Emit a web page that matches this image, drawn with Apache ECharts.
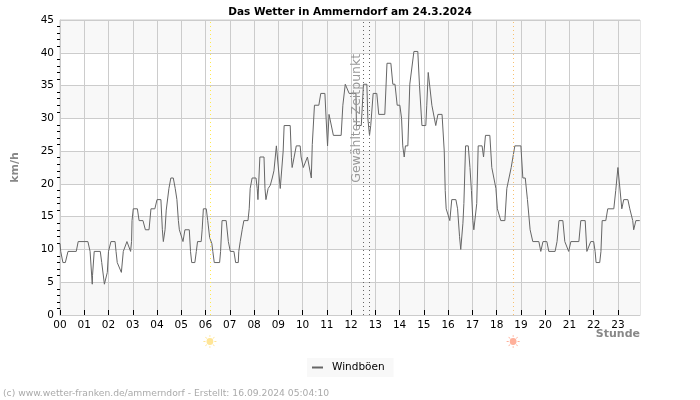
<!DOCTYPE html>
<html>
<head>
<meta charset="utf-8">
<style>html,body{margin:0;padding:0;background:#fff}#c{width:700px;height:400px}</style>
<script src="https://cdn.jsdelivr.net/npm/echarts@6/dist/echarts.min.js"></script>
</head>
<body>
<div id="c"></div>
<script>
const titleText = 'Das Wetter in Ammerndorf am 24.3.2024';
const seriesName = 'Windböen';
const footerText = '(c) www.wetter-franken.de/ammerndorf - Erstellt: 16.09.2024 05:04:10';
const selectedLabel = 'Gewählter Zeitpunkt';
const hourTicks = [0,1,2,3,4,5,6,7,8,9,10,11,12,13,14,15,16,17,18,19,20,21,22,23];
const hours = [0,0.03,0.12,0.22,0.33,0.67,0.75,1.15,1.24,1.33,1.34,1.41,1.66,1.72,1.83,1.91,1.95,2.0,2.1,2.27,2.31,2.36,2.43,2.53,2.61,2.66,2.76,2.84,2.91,2.95,2.97,3.02,3.19,3.26,3.42,3.52,3.67,3.75,3.91,4.0,4.16,4.22,4.26,4.33,4.38,4.49,4.57,4.67,4.75,4.82,4.88,4.92,4.99,5.07,5.15,5.33,5.38,5.43,5.56,5.62,5.67,5.82,5.86,5.91,6.03,6.09,6.17,6.26,6.3,6.36,6.58,6.62,6.68,6.85,6.94,7.02,7.17,7.24,7.35,7.37,7.43,7.51,7.58,7.75,7.8,7.84,7.92,8.08,8.13,8.16,8.24,8.41,8.45,8.49,8.58,8.67,8.75,8.82,8.92,8.98,9.08,9.16,9.2,9.24,9.49,9.54,9.57,9.65,9.74,9.9,9.94,10.03,10.11,10.2,10.27,10.36,10.4,10.49,10.67,10.75,10.92,10.97,11.03,11.09,11.16,11.27,11.59,11.66,11.76,11.81,11.92,12.2,12.22,12.42,12.51,12.65,12.69,12.76,12.81,12.91,13.06,13.14,13.39,13.48,13.64,13.72,13.81,13.9,14.01,14.08,14.13,14.19,14.24,14.34,14.42,14.49,14.59,14.75,14.82,14.92,15.08,15.12,15.18,15.25,15.33,15.41,15.49,15.58,15.75,15.84,15.88,15.92,15.99,16.07,16.15,16.32,16.39,16.47,16.52,16.58,16.61,16.65,16.72,16.83,16.9,16.96,17.02,17.06,17.14,17.18,17.24,17.4,17.46,17.54,17.72,17.8,17.88,17.97,18.03,18.17,18.34,18.42,18.5,18.6,18.67,18.75,19.0,19.08,19.18,19.27,19.38,19.49,19.74,19.82,19.91,20.07,20.15,20.41,20.49,20.57,20.73,20.81,20.89,20.97,21.06,21.39,21.47,21.65,21.72,21.8,21.88,22.0,22.06,22.1,22.25,22.3,22.35,22.5,22.58,22.83,22.91,23.0,23.08,23.16,23.24,23.41,23.49,23.57,23.61,23.65,23.74,23.9];
const gusts = [10.9,9.7,8,8,9.7,9.7,11.2,11.2,9.7,4.7,6,9.7,9.7,8,4.7,4.7,6.5,9.7,11.2,11.2,9.7,8,8,6.5,9.7,9.7,11.2,11.2,9.7,11.2,14.4,16.2,16.2,14.4,14.4,13,13,16.2,16.2,17.6,17.6,13,11.2,13,16,19.3,20.9,20.9,19.3,17.6,14.4,13,13,11.2,13,13,9.7,8,8,9.7,11.2,11.2,13,16.2,16.2,14.4,11.8,10.9,9.7,8,8,9.7,14.4,14.4,11.2,9.7,9.7,8,8,9.7,11.2,13,14.4,14.4,16.2,19.3,20.9,20.9,19.3,17.6,24.1,24.1,19.3,17.6,19.3,19.8,20.9,22,25.8,25.8,19.3,19.3,25,28.9,28.9,24,22.5,22.5,25.8,25.8,24.1,22.5,22.5,24.1,24.1,20.9,26,32,32,33.8,33.8,30,25.8,30.6,30.6,27.4,27.4,32,35.2,35.2,33.8,33.8,28.9,28.9,35.2,35.2,30,27.4,28.9,33.8,33.8,30.6,30.6,38.4,38.4,35.2,35.2,32,32,30,25.8,24.1,25.8,25.8,35.2,35.2,40.2,40.2,35,28.9,28.9,32,37,37,32,32,28.9,30.6,30.6,25,19,16.2,16.2,14.4,17.6,17.6,16.2,12,10,9.7,14,17,25.8,25.8,22.5,19,14.4,13,13,17,25.8,25.8,24.1,27.4,27.4,22.5,22.5,19.3,16.2,14.4,14.4,19.3,19.3,22.5,22.5,25.8,25.8,20.9,20.9,17.6,13,11.2,11.2,9.7,11.2,11.2,9.7,9.7,11.2,14.4,14.4,11.2,11.2,9.7,11.2,11.2,14.4,14.4,9.7,9.7,11.2,11.2,9.7,8,8,9.7,14.4,14.4,16.2,16.2,19,22.5,22.5,16.2,17.6,17.6,16.2,16.2,14.4,13,14.4,14.4];
const sunriseHour = [6.18];
const sunsetHour = [18.68];
const selectedHours = [12.49, 12.74];

const sunPath = 'path://M50 24a26 26 0 1 0 .01 0zM47 0h6v16h-6zM47 84h6v16h-6zM0 47h16v6H0zM84 47h16v6H84zM13 17l4-4 12 12-4 4zM71 75l4-4 12 12-4 4zM83 13l4 4-12 12-4-4zM25 71l4 4-12 12-4-4z';
const chart = echarts.init(document.getElementById('c'), null, {renderer:'canvas'});
const font = '"DejaVu Sans"';
const vline = (x, color) => ({xAxis:x, lineStyle:{color:color, type:[1,3], width:1}});
const baseOption = {
  animation:false,
  backgroundColor:'#fff',
  textStyle:{fontFamily:font},
  title:{text:titleText,left:'center',top:2,itemGap:0,textStyle:{fontFamily:font,fontSize:10.5,fontWeight:'bold',color:'#000'}},
  grid:{left:60,right:60,top:20,height:295,show:true,borderColor:'#ccc',borderWidth:1,backgroundColor:'transparent'},
  legend:{show:true,left:307,top:358,itemWidth:11,itemHeight:2,itemGap:0,padding:[4,9,4,5],backgroundColor:'#f8f8f8',
    data:[{name:seriesName,icon:'rect'}],
    textStyle:{fontFamily:font,fontSize:10.5,color:'#000',padding:[0,0,0,4]}},
  xAxis:{type:'value',min:0,max:23.91,
    axisLine:{lineStyle:{color:'#ccc',width:1}},
    axisTick:{show:true,inside:true,length:5,customValues:hourTicks,lineStyle:{color:'#000',width:1}},
    axisLabel:{customValues:hourTicks,margin:5,fontSize:10.5,color:'#000',fontFamily:font,formatter:v=>String(v).padStart(2,'0'),hideOverlap:false,showMinLabel:true,showMaxLabel:true},
    splitLine:{show:true,lineStyle:{color:'#ccc',width:1}}},
  yAxis:{type:'value',min:0,max:45,interval:5,
    axisLine:{show:true,lineStyle:{color:'#ccc',width:1}},
    axisTick:{show:false},
    minorTick:{show:true,splitNumber:5,length:3,lineStyle:{color:'#000',width:1}},
    axisLabel:{inside:false,margin:6,fontSize:10.5,color:'#000',fontFamily:font},
    splitLine:{show:true,lineStyle:{color:'#ccc',width:1}},
    splitArea:{show:true,areaStyle:{color:['#f8f8f8','#ffffff']}},
    name:'km/h',nameLocation:'middle',nameGap:39,nameRotate:90,
    nameTextStyle:{fontFamily:font,fontSize:11,fontWeight:'bold',color:'#888'}},
  series:[{
    name:seriesName,type:'line',showSymbol:false,symbol:'none',silent:true,
    data:hours.map((h,i)=>[h,gusts[i]]),
    lineStyle:{color:'#666',width:1},itemStyle:{color:'#666'},
    markLine:{silent:true,symbol:'none',label:{show:false},animation:false,
      data:[vline(sunriseHour[0],'#ffe84d'),vline(sunsetHour[0],'#f8c070'),vline(selectedHours[0],'#666'),vline(selectedHours[1],'#666')]}
  }],
  graphic:[
    {type:'text',left:3,top:389,style:{text:footerText,font:'9.2px "DejaVu Sans"',fill:'#aaa'},silent:true},
    {type:'text',right:60,top:329,style:{text:'Stunde',font:'bold 11px "DejaVu Sans"',fill:'#888'},silent:true}
  ]
};
chart.setOption(baseOption);
const sunY = chart.convertToPixel({gridIndex:0},[0,0])[1] + 26.5;
const sunX = h => chart.convertToPixel({gridIndex:0},[h,0])[0];
chart.setOption({series:[{
  markPoint:{silent:true,animation:false,symbol:sunPath,symbolSize:13,
    data:[
      {x:sunX(sunriseHour[0]),y:sunY,itemStyle:{color:'#ffe596'},label:{show:false}},
      {x:sunX(sunsetHour[0]),y:sunY,itemStyle:{color:'#ffb09a'},label:{show:false}},
      {coord:[12.24,30],symbol:'circle',symbolSize:0,label:{show:true,position:'inside',rotate:90,formatter:selectedLabel,fontFamily:font,fontSize:12.5,color:'#999'}}
    ]}
}]});
</script>
</body>
</html>
